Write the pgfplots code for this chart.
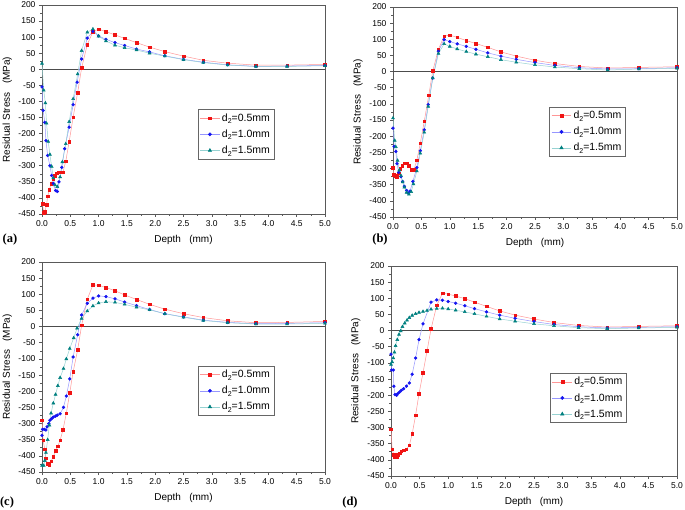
\documentclass[border=0pt]{standalone}
\usepackage{fontspec}
\setmainfont{Liberation Sans}
\newfontfamily\serifb{Liberation Serif}
\usepackage{pgfplots}
\pgfplotsset{compat=1.18}
\definecolor{mred}{RGB}{240,20,20}
\definecolor{lred}{RGB}{255,150,150}
\definecolor{mblue}{RGB}{20,20,240}
\definecolor{lblue}{RGB}{150,150,255}
\definecolor{mteal}{RGB}{0,128,128}
\definecolor{lteal}{RGB}{150,210,210}
\newcommand{\dd}[1]{d\raisebox{-0.45ex}{\fontsize{7}{8}\selectfont 2}=#1mm}
\pgfplotsset{
  panel/.style={
    scale only axis, width=284pt, height=210pt,
    xmin=0, xmax=5, ymin=-450, ymax=200,
    xtick={0,0.5,...,5}, ytick={-450,-400,...,200},
    minor tick num=1, tick align=outside, tick pos=left,
    axis line style={draw=black!65, line width=0.8pt},
    every tick/.style={black!65, line width=0.6pt},
    major tick length=3pt, minor tick length=1.8pt,
    /pgf/number format/assume math mode=true,
    ticklabel style={font=\fontsize{8.5}{10}\selectfont},
    xticklabel style={/pgf/number format/.cd, fixed, fixed zerofill, precision=1},
    yticklabel style={/pgf/number format/.cd, fixed, precision=0},
    xlabel={Depth\ \ \ (mm)}, ylabel={Residual Stress\ \ \ (MPa)},
    label style={font=\fontsize{10}{12}\selectfont},
    xlabel style={at={(axis description cs:0.5,-0.125)}, anchor=center},
    ylabel style={at={(axis description cs:-0.123,0.5)}, anchor=center},
    legend cell align=left,
    legend image post style={scale=1.15},
    legend style={draw=black!60, line width=0.4pt, font=\fontsize{10.5}{12}\selectfont, inner sep=2pt, row sep=3pt, anchor=north west},
  },
  sa/.style={lred, line width=0.5pt, mark=square*, mark size=1.3pt, mark options={draw=mred, fill=mred}},
  sb/.style={lblue, line width=0.5pt, mark=*, mark size=1.4pt, mark options={draw=mblue, fill=mblue}},
  sc/.style={lteal, line width=0.5pt, mark=triangle*, mark size=1.7pt, mark options={draw=mteal, fill=mteal}},
  zl/.style={black!70, line width=0.8pt, forget plot},
}
\begin{document}
\begin{tikzpicture}
\path[use as bounding box] (0,0) rectangle (685pt,-510pt);
% (a)
\begin{axis}[panel, at={(42pt,-5pt)}, anchor=north west, width=283pt, height=209pt,
  legend style={at={(0.55,0.5)}}]
\addplot[zl] coordinates {(0,0) (5,0)};
\addplot[sa] coordinates {(0.01,-418)(0.03,-447)(0.05,-443)(0.08,-422)(0.1,-395)(0.13,-375)(0.16,-356)(0.2,-340)(0.23,-331)(0.26,-323)(0.3,-320)(0.33,-320)(0.37,-320)(0.42,-286)(0.48,-225)(0.55,-149)(0.63,-72)(0.7,4)(0.8,77)(0.9,117)(1.0,125)(1.13,117)(1.29,107)(1.46,96)(1.67,83)(1.9,69)(2.17,55)(2.5,41)(2.85,28)(3.28,19)(3.78,13)(4.33,13)(5.0,15)};
\addplot[sb] coordinates {(0.0,-55)(0.02,-128)(0.05,-165)(0.07,-222)(0.1,-268)(0.14,-300)(0.17,-330)(0.2,-355)(0.24,-377)(0.27,-380)(0.3,-350)(0.35,-305)(0.4,-247)(0.48,-180)(0.55,-110)(0.62,-40)(0.7,32)(0.8,97)(0.9,118)(1.0,104)(1.13,93)(1.29,83)(1.46,74)(1.67,63)(1.9,54)(2.17,42)(2.5,31)(2.85,22)(3.28,14)(3.78,9)(4.33,10)(5.0,12)};
\addplot[sc] coordinates {(0.0,18)(0.03,-65)(0.06,-105)(0.08,-168)(0.11,-225)(0.14,-265)(0.17,-302)(0.2,-338)(0.23,-360)(0.27,-365)(0.32,-335)(0.36,-288)(0.42,-232)(0.48,-163)(0.55,-92)(0.63,-15)(0.7,58)(0.8,115)(0.9,125)(1.0,103)(1.13,88)(1.29,75)(1.46,67)(1.67,60)(1.9,50)(2.17,41)(2.5,30)(2.85,21)(3.28,13)(3.78,9)(4.33,9)(5.0,11)};
\legend{\dd{0.5}, \dd{1.0}, \dd{1.5}}
\end{axis}
% (b)
\begin{axis}[panel, at={(393pt,-7pt)}, anchor=north west,
  legend style={at={(0.55,0.524)}}]
\addplot[zl] coordinates {(0,0) (5,0)};
\addplot[sa] coordinates {(0.0,-298)(0.01,-320)(0.04,-322)(0.07,-325)(0.1,-315)(0.13,-300)(0.16,-292)(0.2,-284)(0.25,-284)(0.28,-292)(0.32,-303)(0.37,-303)(0.42,-274)(0.48,-222)(0.55,-154)(0.63,-73)(0.7,2)(0.8,69)(0.9,110)(1.0,113)(1.13,106)(1.29,96)(1.46,87)(1.67,75)(1.9,61)(2.17,48)(2.5,35)(2.85,25)(3.28,16)(3.78,11)(4.33,13)(5.0,15)};
\addplot[sb] coordinates {(0.0,-175)(0.02,-232)(0.05,-247)(0.07,-285)(0.1,-312)(0.14,-325)(0.17,-340)(0.2,-355)(0.24,-368)(0.27,-376)(0.3,-370)(0.35,-340)(0.42,-297)(0.48,-245)(0.55,-180)(0.62,-102)(0.7,-20)(0.8,63)(0.9,99)(1.0,93)(1.13,86)(1.29,78)(1.46,69)(1.67,58)(1.9,48)(2.17,38)(2.5,28)(2.85,19)(3.28,12)(3.78,8)(4.33,9)(5.0,12)};
\addplot[sc] coordinates {(0.0,-144)(0.03,-213)(0.05,-233)(0.08,-275)(0.11,-305)(0.14,-322)(0.17,-342)(0.2,-358)(0.24,-374)(0.28,-380)(0.32,-372)(0.36,-348)(0.42,-308)(0.48,-253)(0.55,-188)(0.62,-108)(0.7,-20)(0.8,56)(0.9,86)(1.0,78)(1.13,70)(1.29,62)(1.46,54)(1.67,46)(1.9,37)(2.17,29)(2.5,21)(2.85,14)(3.28,9)(3.78,5)(4.33,8)(5.0,10)};
\legend{\dd{0.5}, \dd{1.0}, \dd{1.5}}
\end{axis}
% (c)
\begin{axis}[panel, at={(42pt,-262pt)}, anchor=north west, width=283pt,
  legend style={at={(0.55,0.505)}}]
\addplot[zl] coordinates {(0,0) (5,0)};
\addplot[sa] coordinates {(0.0,-290)(0.02,-352)(0.05,-380)(0.07,-407)(0.1,-425)(0.13,-428)(0.16,-417)(0.2,-402)(0.24,-385)(0.28,-370)(0.32,-352)(0.37,-320)(0.43,-268)(0.49,-205)(0.55,-140)(0.63,-72)(0.7,4)(0.8,85)(0.9,129)(1.0,128)(1.13,121)(1.29,111)(1.46,98)(1.67,84)(1.9,69)(2.17,54)(2.5,40)(2.85,28)(3.28,18)(3.78,12)(4.33,13)(5.0,16)};
\addplot[sb] coordinates {(0.0,-337)(0.01,-318)(0.04,-318)(0.07,-320)(0.09,-310)(0.12,-300)(0.14,-290)(0.17,-285)(0.2,-280)(0.24,-277)(0.27,-274)(0.32,-270)(0.38,-250)(0.43,-215)(0.49,-162)(0.55,-94)(0.63,-25)(0.7,36)(0.8,72)(0.9,88)(1.0,95)(1.13,93)(1.29,86)(1.46,76)(1.67,65)(1.9,53)(2.17,40)(2.5,30)(2.85,20)(3.28,13)(3.78,9)(4.33,10)(5.0,12)};
\addplot[sc] coordinates {(0.0,-430)(0.03,-430)(0.05,-415)(0.07,-390)(0.1,-350)(0.13,-305)(0.16,-268)(0.2,-237)(0.24,-210)(0.28,-183)(0.32,-158)(0.38,-130)(0.43,-100)(0.49,-68)(0.56,-35)(0.62,-5)(0.7,25)(0.8,48)(0.9,64)(1.0,73)(1.13,77)(1.29,75)(1.46,69)(1.67,60)(1.9,52)(2.17,40)(2.5,29)(2.85,19)(3.28,12)(3.78,8)(4.33,8)(5.0,10)};
\legend{\dd{0.5}, \dd{1.0}, \dd{1.5}}
\end{axis}
% (d)
\begin{axis}[panel, at={(391pt,-266pt)}, anchor=north west, width=286pt,
  legend style={at={(0.556,0.49)}}]
\addplot[zl] coordinates {(0,0) (5,0)};
\addplot[sa] coordinates {(0.0,-305)(0.02,-367)(0.05,-385)(0.07,-392)(0.1,-390)(0.12,-385)(0.15,-380)(0.18,-373)(0.22,-370)(0.27,-367)(0.32,-355)(0.37,-320)(0.43,-262)(0.49,-195)(0.56,-130)(0.63,-63)(0.7,5)(0.8,78)(0.9,116)(1.0,113)(1.13,107)(1.29,99)(1.46,88)(1.67,75)(1.9,61)(2.17,48)(2.5,36)(2.85,25)(3.28,16)(3.78,11)(4.33,13)(5.0,15)};
\addplot[sb] coordinates {(0.0,-73)(0.01,-122)(0.04,-122)(0.05,-172)(0.07,-198)(0.1,-200)(0.12,-195)(0.15,-190)(0.18,-185)(0.22,-180)(0.27,-172)(0.32,-162)(0.37,-135)(0.43,-85)(0.49,-28)(0.56,21)(0.7,88)(0.8,95)(0.9,94)(1.0,90)(1.13,85)(1.29,77)(1.46,68)(1.67,58)(1.9,48)(2.17,38)(2.5,28)(2.85,19)(3.28,12)(3.78,8)(4.33,10)(5.0,12)};
\addplot[sc] coordinates {(0.0,-105)(0.02,-97)(0.04,-85)(0.06,-67)(0.08,-47)(0.11,-28)(0.14,-12)(0.17,-1)(0.2,12)(0.24,23)(0.28,32)(0.32,40)(0.37,47)(0.43,52)(0.49,56)(0.56,59)(0.63,62)(0.7,66)(0.8,68)(0.9,69)(1.0,67)(1.13,63)(1.29,58)(1.46,52)(1.67,44)(1.9,36)(2.17,29)(2.5,21)(2.85,15)(3.28,9)(3.78,6)(4.33,8)(5.0,10)};
\legend{\dd{0.5}, \dd{1.0}, \dd{1.5}}
\end{axis}
\node[font=\serifb\bfseries\fontsize{12.5}{14}\selectfont] at (10pt,-239pt) {(a)};
\node[font=\serifb\bfseries\fontsize{12.5}{14}\selectfont] at (380pt,-239pt) {(b)};
\node[font=\serifb\bfseries\fontsize{12.5}{14}\selectfont] at (7pt,-502pt) {(c)};
\node[font=\serifb\bfseries\fontsize{12.5}{14}\selectfont] at (350pt,-502pt) {(d)};
\end{tikzpicture}
\end{document}
